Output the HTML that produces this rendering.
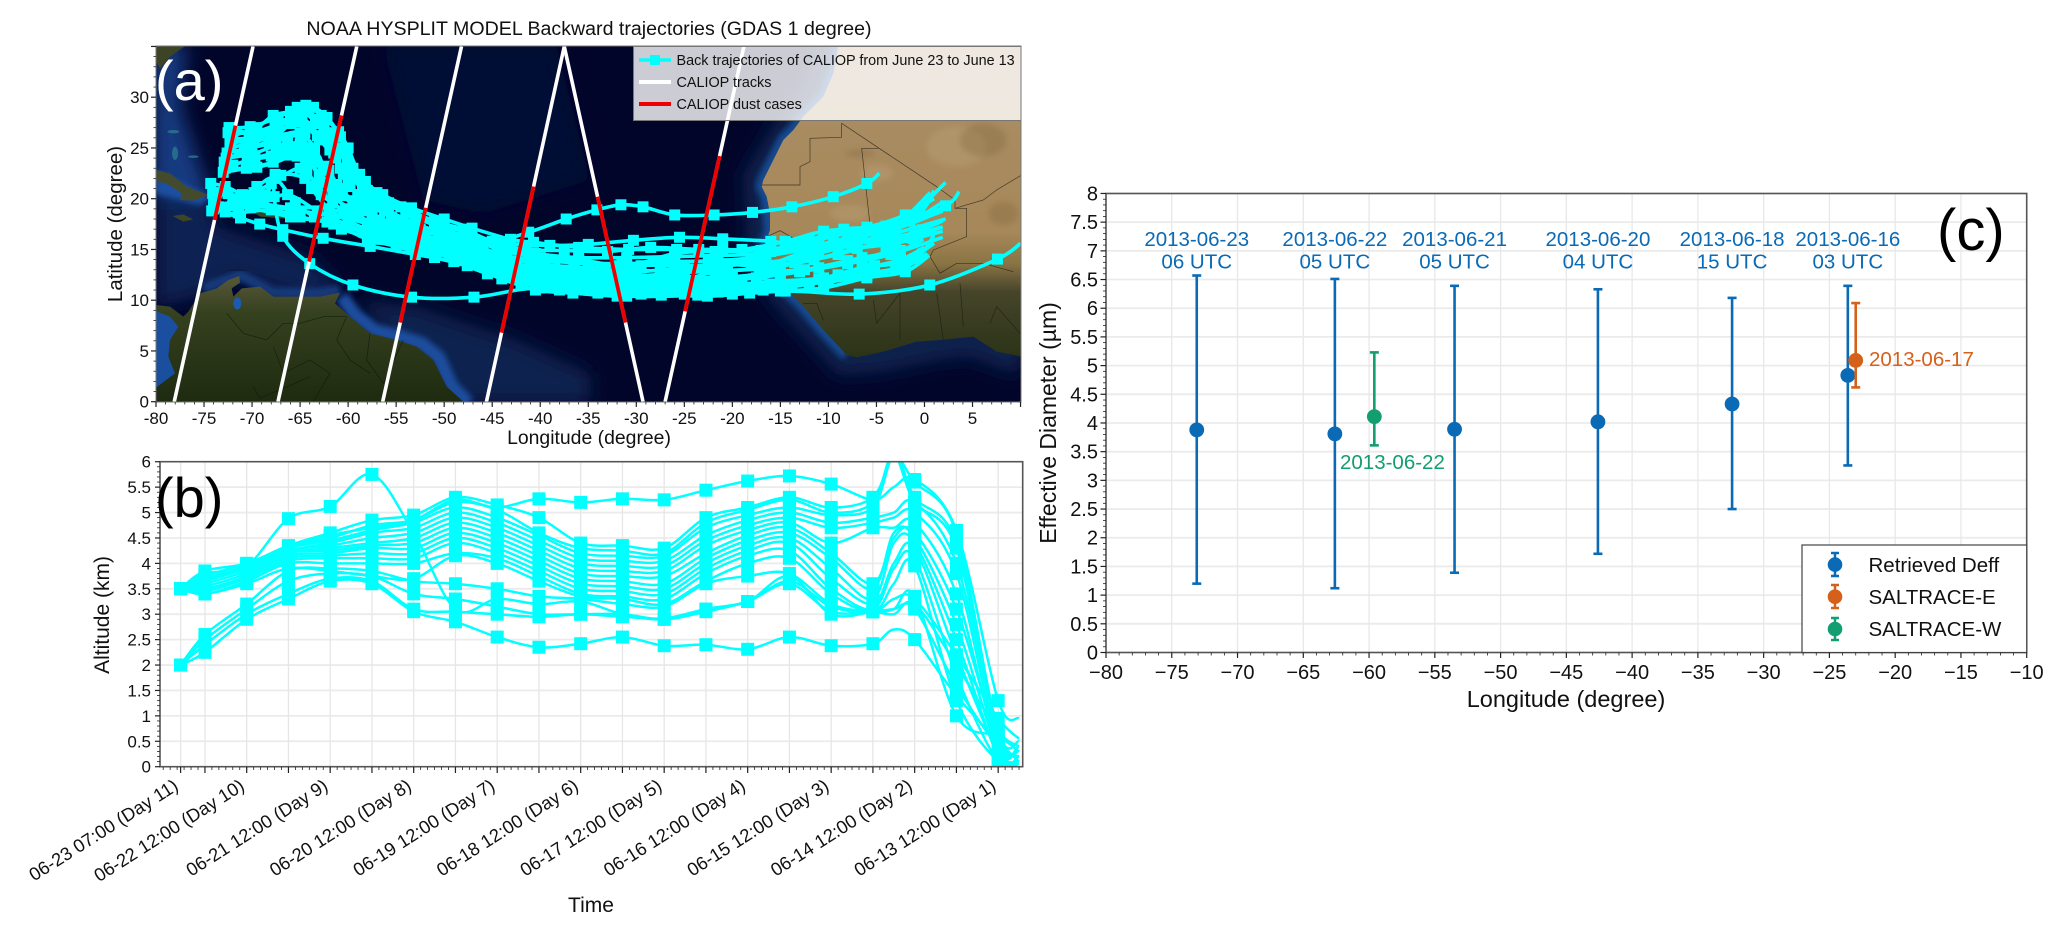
<!DOCTYPE html>
<html lang="en">
<head>
<meta charset="utf-8">
<title>Back trajectories and effective diameter</title>
<style>
html,body{margin:0;padding:0;background:#fff;}
svg{display:block;font-family:"Liberation Sans",Arial,sans-serif;}
</style>
</head>
<body>
<svg id="fig" xmlns="http://www.w3.org/2000/svg" width="2067" height="937" viewBox="0 0 2067 937">
<defs>
  <clipPath id="clipA"><rect x="156" y="46" width="865" height="356"/></clipPath>
  <clipPath id="clipB"><rect x="160" y="462" width="863" height="305"/></clipPath>
  <filter id="blur10" x="-20%" y="-20%" width="140%" height="140%"><feGaussianBlur stdDeviation="9"/></filter>
  <filter id="blur30" x="-30%" y="-30%" width="160%" height="160%"><feGaussianBlur stdDeviation="28"/></filter>
  <linearGradient id="africaFill" x1="0" y1="20" x2="0" y2="950" gradientUnits="userSpaceOnUse">
    <stop offset="0" stop-color="#ab8e66"/>
    <stop offset="0.6" stop-color="#a6885a"/>
    <stop offset="0.7" stop-color="#8a7444"/>
    <stop offset="0.79" stop-color="#46452a"/>
    <stop offset="1" stop-color="#2b3317"/>
  </linearGradient>
  <linearGradient id="samFill" x1="0" y1="710" x2="0" y2="1085" gradientUnits="userSpaceOnUse">
    <stop offset="0" stop-color="#57573a"/>
    <stop offset="0.3" stop-color="#34401e"/>
    <stop offset="1" stop-color="#1f2b10"/>
  </linearGradient>
</defs>

<text x="589" y="35" font-size="19.6" text-anchor="middle" fill="#111">NOAA HYSPLIT MODEL Backward trajectories (GDAS 1 degree)</text>

<g id="panelA">
  <g clip-path="url(#clipA)">
    <rect x="156" y="46" width="865" height="356" fill="#02052a"/>
    <g transform="translate(150,40) scale(.33333)">
      <g filter="url(#blur30)">
        <polygon fill="#0a2352" points="20,400 170,430 200,560 480,650 570,740 570,770 440,770 250,710 140,770 20,800"/>
        <polygon fill="#123a80" points="10,10 110,10 90,200 150,380 185,470 10,470"/>
        <polygon fill="#0a2250" points="620,780 800,800 1100,900 1320,1000 1320,1090 900,1090"/>
        <polygon fill="#040f34" points="700,20 1220,20 1320,420 1000,520 820,480"/>
      </g>
      <polyline fill="none" stroke="#123a7c" stroke-width="32" filter="url(#blur10)" points="160,745 270,705 370,758 510,760 570,750"/>
      <polyline fill="none" stroke="#1a4e9e" stroke-width="42" filter="url(#blur10)" points="575,770 615,825 675,872 755,892 815,912 865,952 905,1040 955,1090"/>
      <polygon fill="#1a4fa0" filter="url(#blur10)" points="15,390 185,470 150,495 15,460"/>
      <polygon fill="url(#samFill)" points="20,795 60,800 100,830 115,815 150,760 200,745 235,720 268,708 270,728 245,745 250,770 275,745 330,740 370,770 440,770 510,770 570,758 555,790 600,830 660,880 740,900 800,920 850,960 890,1040 940,1085 20,1085"/>
      <polygon fill="#1a4fa0" points="15,812 60,830 85,860 60,900 55,950 75,1000 15,1045"/>
      <ellipse fill="#1d5bb0" cx="262" cy="790" rx="12" ry="18"/>
      <polygon fill="#444a2c" points="20,390 60,400 110,440 175,465 130,482 90,480 95,460 50,430 20,425"/>
      <polygon fill="#3c4526" points="68,528 100,523 130,538 100,545"/>
      <polygon fill="#3c4526" points="300,510 350,515 450,530 430,538 330,530"/>
      <polygon fill="#3d4426" points="15,15 110,15 60,50 30,85 15,60"/>
      <g fill="#2c7890" opacity=".8"><ellipse cx="75" cy="340" rx="9" ry="20"/><ellipse cx="70" cy="275" rx="18" ry="5"/><ellipse cx="130" cy="350" rx="16" ry="4"/></g>
      <g fill="none" stroke="#0e1408" stroke-width="2" opacity=".7">
        <polyline points="230,820 280,880 350,900 400,850 450,850 520,830 590,830"/>
        <polyline points="370,920 400,1000 480,960 540,1000 490,1085"/>
        <polyline points="590,830 560,900 600,960 660,1000"/>
        <polyline points="660,880 650,960 700,1030 760,900"/>
        <polyline points="310,1040 330,1075 480,1010"/>
      </g>
    </g>
    <g transform="translate(590,40) scale(.33333)">
      <polyline fill="none" stroke="#08204e" stroke-width="120" filter="url(#blur30)" points="745,15 700,170 610,270 520,420 530,600 518,630 600,760 770,945 880,935 1050,900 1150,890 1300,950"/>
      <polyline fill="none" stroke="#194a90" stroke-width="36" filter="url(#blur10)" points="745,15 730,100 700,170 640,230 610,270 580,300 550,360 520,420 515,440 530,470 540,570 518,630 530,650 560,690 600,760 640,800 700,870 770,945"/>
      <polygon fill="url(#africaFill)" points="745,15 730,100 700,170 640,230 610,270 580,300 550,360 520,420 515,440 530,470 540,520 540,570 530,600 518,630 530,650 560,690 600,760 640,800 700,870 770,945 800,952 880,935 980,905 1050,900 1150,890 1220,935 1295,950 1295,15"/>
      <g fill="#c0a67c" opacity=".35" filter="url(#blur10)">
        <ellipse cx="1100" cy="320" rx="90" ry="60"/><ellipse cx="860" cy="400" rx="50" ry="25"/><ellipse cx="780" cy="520" rx="60" ry="25"/>
      </g>
      <g fill="#7c6238" opacity=".3" filter="url(#blur10)">
        <ellipse cx="1180" cy="300" rx="70" ry="50"/><ellipse cx="1240" cy="520" rx="45" ry="35"/><ellipse cx="810" cy="340" rx="45" ry="12"/>
      </g>
      <g fill="none" stroke="#1c1a10" stroke-width="2" opacity=".75">
        <polyline points="515,435 630,435 630,380 660,365 660,295 755,292 755,250 1040,440 1095,480 1095,505 1130,505 1130,590 1030,630 1020,650 1050,700"/>
        <polyline points="815,325 865,325"/>
        <polyline points="815,325 840,555 860,570"/>
        <polyline points="1095,505 1180,480 1220,450 1295,405"/>
        <polyline points="530,590 570,572 620,600 620,630"/>
        <polyline points="640,790 680,790 700,840"/>
        <polyline points="1050,700 1100,670 1180,670 1270,695"/>
        <polyline points="850,780 860,850 930,760 930,900"/>
        <polyline points="1040,760 1060,900"/>
        <polyline points="1110,730 1120,860"/>
        <polyline points="1200,850 1220,800 1290,880"/>
      </g>
    </g>
  </g>
  <g id="aMarks" clip-path="url(#clipA)"></g>
  <g id="aTracks" clip-path="url(#clipA)"></g>

  <g>
    <rect x="633.5" y="46.5" width="387.5" height="74" fill="#fff" fill-opacity=".8" stroke="#777" stroke-width="1"/>
    <line x1="639" y1="60" x2="671" y2="60" stroke="#00ffff" stroke-width="3.5"/>
    <rect x="650" y="55" width="10" height="10" fill="#00ffff"/>
    <line x1="639" y1="82" x2="671" y2="82" stroke="#fff" stroke-width="4"/>
    <line x1="639" y1="104" x2="671" y2="104" stroke="#ee0000" stroke-width="4"/>
    <text x="676.5" y="65" font-size="14.4" fill="#111">Back trajectories of CALIOP from June 23 to June 13</text>
    <text x="676.5" y="87" font-size="14.4" fill="#111">CALIOP tracks</text>
    <text x="676.5" y="109" font-size="14.4" fill="#111">CALIOP dust cases</text>
  </g>
  <rect x="156" y="46" width="865" height="356" fill="none" stroke="#777" stroke-width="1"/>
  <g id="aAxes"></g>
  <text x="589" y="444" font-size="19.4" text-anchor="middle" fill="#111">Longitude (degree)</text>
  <text transform="translate(122,224) rotate(-90)" font-size="20.5" text-anchor="middle" fill="#111">Latitude (degree)</text>
  <text x="155" y="100" font-size="56" fill="#fff">(a)</text>
</g>

<g id="panelB">
  <g id="bGrid"></g>
  <g id="bMarks" clip-path="url(#clipB)"></g>
  <rect x="160" y="461.7" width="862.7" height="305" fill="none" stroke="#555" stroke-width="1.6"/>
  <g id="bAxes"></g>
  <text x="591" y="912" font-size="21" text-anchor="middle" fill="#111">Time</text>
  <text transform="translate(109,615) rotate(-90)" font-size="21" text-anchor="middle" fill="#111">Altitude (km)</text>
  <text x="155" y="517" font-size="56" fill="#000">(b)</text>
</g>

<g id="panelC">
  <g id="cGrid"></g>
  <g id="cMarks"></g>
  <rect x="1106" y="193.5" width="920.7" height="459" fill="none" stroke="#555" stroke-width="1.6"/>
  <g>
    <rect x="1802" y="545" width="224.7" height="107.5" fill="#fff" stroke="#444" stroke-width="1.2"/>
    <g stroke="#0a6ab5" stroke-width="2.5">
      <line x1="1835" y1="553" x2="1835" y2="576"/><line x1="1831" y1="553" x2="1839" y2="553"/><line x1="1831" y1="576" x2="1839" y2="576"/>
      <circle cx="1835" cy="564.6" r="7.3" fill="#0a6ab5" stroke="none"/>
    </g>
    <g stroke="#d5601a" stroke-width="2.5">
      <line x1="1835" y1="585" x2="1835" y2="608"/><line x1="1831" y1="585" x2="1839" y2="585"/><line x1="1831" y1="608" x2="1839" y2="608"/>
      <circle cx="1835" cy="596.7" r="7.3" fill="#d5601a" stroke="none"/>
    </g>
    <g stroke="#129e70" stroke-width="2.5">
      <line x1="1835" y1="618" x2="1835" y2="640"/><line x1="1831" y1="618" x2="1839" y2="618"/><line x1="1831" y1="640" x2="1839" y2="640"/>
      <circle cx="1835" cy="629" r="7.3" fill="#129e70" stroke="none"/>
    </g>
    <text x="1868.5" y="572" font-size="20.5" fill="#111">Retrieved Deff</text>
    <text x="1868.5" y="604" font-size="20.5" fill="#111">SALTRACE-E</text>
    <text x="1868.5" y="636" font-size="20.5" fill="#111">SALTRACE-W</text>
  </g>
  <g id="cAxes"></g>
  <text x="1566" y="707" font-size="23.5" text-anchor="middle" fill="#111">Longitude (degree)</text>
  <text transform="translate(1056,423) rotate(-90)" font-size="23" text-anchor="middle" fill="#111">Effective Diameter (µm)</text>
  <text x="1937" y="250" font-size="58" fill="#000">(c)</text>
</g>
</svg>

<script>
/* ---------- Panel (a) data: [lon, lat] points, west to east ---------- */
const traj01 = [-72.3,27,-70.2,27.1,-67.3,28,-65.3,29,-63.6,29,-62.2,28,-60.8,26.1,-60.1,24,-58.2,21.7,-56.4,20.4,-53.4,19.1,-50,18,-47.1,17.1,-43.1,16,-40.7,15.7,-36,15.2,-30.8,15,-25.8,15,-21,15,-16.5,14.9,-11,15.5,-6.5,16.5,-3,17,2.2,21.6];
const traj02 = [-72.3,25.5,-70,25.8,-67.5,26.8,-65.5,28.2,-64.2,28.6,-62.5,27.2,-61,25,-60,23.2,-58.5,21,-56.8,19.8,-54,18.6,-50.5,17.4,-47.5,16.6,-44,15.2,-40.5,14.6,-36,14.2,-31,14.2,-26,14.3,-21.5,14.4,-16.5,14.6,-12,15.3,-7,16.2,-3,17.4,0.6,20.6];
const traj03 = [-72.6,24.5,-70.4,25,-68,25.8,-66,27.4,-64.8,28,-63,26.2,-61.5,24.5,-60.5,22.4,-59,20.4,-57,19.2,-54.5,17.8,-51,16.9,-48,15.9,-44.5,14.6,-41,14,-36.5,13.7,-31.5,13.6,-26.5,13.8,-21.5,13.9,-17,14.3,-12.5,15,-7.5,16.1,-3.5,17,2.2,19.3,3.6,20.7];
const traj04 = [-72.8,23,-69.5,23.1,-66,24.3,-64.5,26.5,-63.4,27.8,-62,26.5,-60.8,24.5,-59.8,22.6,-58,20.2,-55.8,18.8,-53,17.6,-49.5,16.3,-46.5,15.4,-43.5,14.2,-39.5,13.5,-35,13.2,-30.5,12.8,-26,13.1,-21,13.4,-16.5,13.7,-12,14.4,-7.5,15.5,-3,16.6,2.2,18];
const traj05 = [-72.5,26.5,-70,26.5,-67.6,27.2,-65.5,27.6,-63.2,26.2,-61.9,24.8,-60.8,23,-59.8,21.2,-57.8,19.4,-55.5,18.2,-52.5,17,-49,15.8,-46,14.8,-42.5,13.6,-38.5,13.1,-34,12.6,-30,12.4,-25.5,12.7,-20.5,12.9,-16,13.2,-11.5,14,-7,15.1,-3,15.6,1.9,16.8];
const traj06 = [-72.2,25,-69.8,25.6,-67.3,26.2,-65,26.5,-63.5,25,-62.5,23.2,-61.2,21.4,-59.5,19.8,-57.5,18.4,-55,17.2,-52,16.3,-48.5,15.2,-45.5,14.2,-42,13,-38,12.4,-33.5,12,-29.5,12.1,-25,12.1,-20,12.3,-15.5,12.8,-11,13.2,-6.5,14.2,-2.5,14.9,-0.1,16];
const traj07 = [-72.7,24,-70,24.4,-67.5,25.2,-65,25.4,-64,23.8,-63,22.1,-61.5,20.2,-59.8,19,-57.6,17.6,-54.8,16.5,-51.8,15.6,-48,14.6,-45,13.6,-41.5,12.3,-37.5,11.8,-33,11.5,-29,11.4,-24.5,11.5,-19.5,11.6,-15,11.9,-10.5,12.2,-6,13.2,-2.5,14,0,15.2];
const traj08 = [-72,23.3,-69.7,24,-67,24.6,-65.3,24.2,-64.3,22.8,-63.2,21.2,-61.6,19.6,-59.5,18.2,-57,17,-54.5,15.9,-51.5,15,-48,13.9,-44.5,13,-41,11.9,-37,11.5,-32.5,11.2,-28.5,11,-24,10.9,-19.5,11,-15,11.4,-10,11.8,-6,12.4,-2,13.3,0.3,14.6];
const traj09 = [-72.4,27,-69.6,26.4,-67.2,27.4,-65,28.6,-63.3,27.4,-62,25.6,-60.4,25,-59.5,23,-58,20.8,-55.8,19.6,-53,18.2,-50,17,-47,16,-44,14.9,-40,14.2,-36,14,-31,13.4,-26,14.6,-21.8,14.8,-17,14.9,-12.5,15.6,-8,16.6,-3.5,16.9,1.9,18.8];
const traj10 = [-72.1,25.9,-70.3,26,-67.6,26.9,-66,27.9,-64.4,27.1,-63,25.8,-61.3,24,-60,21.8,-58.4,19.8,-56.2,18.9,-53.6,17.3,-50.2,16.4,-47,15,-43.6,13.9,-40,12.8,-36,12.5,-31.5,12.2,-26.5,12.4,-21.5,12.2,-17,12.5,-12.5,13,-8,13.9,-4,14.8,-0.5,17.4];
const traj11 = [-74,19.3,-70,19.6,-66,19.1,-62,19,-57,17.5,-52,16,-46,15.5,-41.2,16.7,-37.3,18,-34.1,18.9,-31.6,19.4,-29.3,19.2,-26,18.4,-21.9,18.4,-17.9,18.65,-13.8,19.2,-9.5,20.2,-6,21.5,-4.7,22.5];
const traj12 = [-74.2,18.8,-72,19.3,-70.2,19.1,-66,18.2,-62.2,17.7,-58.4,16.7,-54.3,15.7,-50.5,14.8,-47,13.8,-43,12.4,-39,11.4,-35,11,-30.5,10.9,-26,10.8,-21.5,10.8,-16.8,11,-12,11.6,-7,12.6,-3,13.2,1,15.6];
const traj13 = [-74,19,-71.2,18.1,-69.2,17.5,-66.8,16.95,-62.6,16.1,-57.7,15.3,-53,14.5,-49,13.8,-45.5,12.6,-42,11.7,-38,11,-34,10.7,-29.5,10.6,-25,10.6,-20,10.6,-15,10.9,-10.5,11.2,-6,12.2,-2,12.8,0.5,14.4];
const traj14 = [-73.8,19.5,-72,19.7,-69.5,21.2,-67.6,22,-65.5,19.6,-63.5,18.2,-60.7,17,-57,16,-53,15.2,-49.5,14.5,-46,13.4,-42.5,12.2,-38.5,11.6,-34,11.3,-30,11.1,-25.5,11.3,-21,11.2,-16,11.6,-11,12.1,-6.5,13.2,-2.5,13.7,-0.5,15];
const traj15 = [-73.7,20.6,-71.5,20,-69.8,20.6,-68,21.5,-65,23,-63.8,21,-62,19,-60,17.8,-57.5,16.8,-54,15.6,-50.5,15,-47,14.2,-43.5,13,-40,11.8,-36,11.5,-31.5,11.6,-27,11.7,-22,11.9,-17.5,12.2,-13,12.8,-8,13.6,-3.5,14.5,1.9,16.2];
const traj16 = [-74,20,-72.5,20.5,-71,19.5,-68.7,20.4,-67,22.3,-64.5,22,-62.8,20.4,-60.5,18.8,-58,17.4,-55,16.4,-51.5,15.6,-48,14.8,-44.5,14.1,-41,13.2,-36.5,13.2,-32,13.4,-27.5,13.7,-22.5,13.8,-18,13.4,-13.5,13.7,-9,14.5,-4.5,15.8,-1,16.7,1.9,17.8];
const traj17 = [-73.5,19.2,-70,19.4,-65,18.8,-60,18,-54,16.6,-49,15.9,-44,15.6,-39,15.4,-35,15.5,-30.3,15.9,-25.5,16.2,-21,16.05,-16,15.8,-13,15.4,-8,15.6,-3.5,16,1.9,17.2];
const traj18 = [-67.6,22.4,-67.7,20.2,-66.8,16.3,-64,13.6,-59.5,11.5,-53.4,10.3,-46.9,10.3,-40,11.2,-31,10.4,-23.6,10.5,-14.5,10.9,-6.8,10.6,0.55,11.5,7.6,14.05,10,15.6];
const traj19 = [-72.9,23.6,-70.8,24.8,-68.2,25.4,-66.3,26,-64.9,26.2,-63.7,24.4,-62,22.8,-60.9,21,-59,19.2,-56.7,17.9,-54,16.9,-50.5,15.8,-47.5,14.9,-44,13.6,-40.5,13.1,-36.5,12.9,-32,13,-27.5,12.9,-22.5,13.2,-18,14,-13.5,15.4,-9.5,16.4,-5.5,17,-1.5,17.8,1.8,19.6];
const traj20 = [-72,26.2,-69.5,27,-67.8,28.2,-66,28.6,-64.4,29.2,-62.8,28.2,-61,26.6,-60,25,-58.8,22.4,-57,20.6,-54.5,19.2,-51,17.8,-48,17,-45,15.8,-41.5,15,-37.5,14.9,-33,14.8,-28.5,15.2,-23.5,15,-19,15,-14.5,15.8,-10.5,16.8,-6,17.2,-2,18.4,1,20];
const traj21 = [-72.3,25,-70.5,24,-68,24.2,-66.2,25,-64.6,25,-63.3,23.6,-62.2,21.6,-60.6,20.3,-58.6,18.8,-56,17.5,-53,16.5,-49.8,15.4,-46.8,14.2,-43,13,-39.2,12.2,-35,12.2,-30.8,11.9,-26.2,11.8,-21.8,12.8,-17.2,13.2,-13,14.6,-9,15.6,-5,16.6,-1,16.2,1.6,17.2];
const traj22 = [-73,22.6,-70.6,23,-67.8,23.6,-66.8,24.4,-65.6,25,-64.3,24,-63,22.4,-61.6,20.6,-59.8,18.6,-57.3,17.3,-54.3,16.2,-51,15.2,-47.8,13.9,-44.7,12.8,-41,12.3,-37,11.9,-33,11.9,-28,11.5,-24,11.6,-19,12,-15,13.3,-11,14.7,-7,15.8,-3.5,16.2,-1,15.5];
const traj23 = [-74.1,20.5,-72.8,18.7,-71.4,18.6,-68,18.9,-65,18.2,-61.5,17.5,-58,16,-55,15.3,-51,14.2,-47.6,13.4,-44,12.1,-40.5,11,-36.6,10.7,-32,10.4,-27.4,10.5,-22.6,10.4,-18.2,10.7,-13.8,11.3,-9,12.5,-5.2,13.4,-1,14.1,1,16.4];
const traj24 = [-74.3,21.5,-72.8,21.2,-71,20.4,-69,19.6,-66.3,20.4,-63.2,18.8,-60,17.4,-56.4,16,-52.4,15,-48.6,14.2,-45,13.2,-41.5,12.6,-37.8,12.6,-33.5,12.6,-29.5,13.4,-25,13.4,-20.5,13.6,-16,14.8,-12,15.9,-8.4,17,-4,17.3,-0.5,18.6,1,20.8];
const trajectories = [traj01,traj02,traj03,traj04,traj05,traj06,traj07,traj08,traj09,traj10,traj11,traj12,traj13,traj14,traj15,traj16,traj17,traj18,traj19,traj20,traj21,traj22,traj23,traj24];

const trackBottomLon = [-78.1,-67.3,-56.4,-45.6,-29.3,-27];
const trackTopLon    = [-69.9,-59.1,-48.2,-37.5,-37.5,-18.8];
const dustLatLow     = [17.9,13.8,7.8,6.8,7.8,8.9];
const dustLatHigh    = [27.2,28.2,19.1,21.2,20.2,24.2];

const aLonTicks = [-80,-75,-70,-65,-60,-55,-50,-45,-40,-35,-30,-25,-20,-15,-10,-5,0,5];
const aLatTicks = [0,5,10,15,20,25,30];

/* ---------- Panel (b) data: altitude in km at each sample hour ---------- */
const sampleHours = [0,7,19,31,43,55,67,79,91,103,115,127,139,151,163,175,187,199,205,211,223,235,241];
const markerHours = [0,7,19,31,43,55,67,79,91,103,115,127,139,151,163,175,187,199,211,223,235];
const bTickLabelHours = [0,19,43,67,91,115,139,163,187,211,235];
const bTickLabels = ["06-23 07:00 (Day 11)","06-22 12:00 (Day 10)","06-21 12:00 (Day 9)","06-20 12:00 (Day 8)","06-19 12:00 (Day 7)","06-18 12:00 (Day 6)","06-17 12:00 (Day 5)","06-16 12:00 (Day 4)","06-15 12:00 (Day 3)","06-14 12:00 (Day 2)","06-13 12:00 (Day 1)"];
const altTicks = [0,0.5,1,1.5,2,2.5,3,3.5,4,4.5,5,5.5,6];

const alt01 = [3.5,3.8,3.95,4.88,5.12,5.75,4.6,3.1,3.3,3.2,3.25,3.0,2.9,3.1,3.25,3.65,3.15,3.05,3.3,3.3,2.2,0.95,0.55];
const alt02 = [3.5,3.7,3.9,4.3,4.55,4.7,4.85,5.25,5.1,5.27,5.2,5.27,5.25,5.44,5.62,5.72,5.56,5.25,5.5,5.65,4.65,1.3,0.95];
const alt03 = [3.5,3.85,4.0,4.35,4.6,4.85,4.95,5.3,5.15,4.9,4.4,4.35,4.3,4.9,5.1,5.3,5.1,5.3,6.1,5.6,4.6,0.6,0.3];
const alt04 = [3.5,3.75,4.0,4.3,4.5,4.75,4.85,5.2,5.05,4.6,4.3,4.25,4.2,4.8,5.05,5.25,5.0,5.2,6.2,5.3,4.4,0.7,0.5];
const alt05 = [3.5,3.7,3.95,4.3,4.45,4.65,4.8,5.1,4.9,4.55,4.2,4.15,4.15,4.7,4.95,5.1,4.95,5.1,6.1,5.2,4.3,0.5,0.4];
const alt06 = [3.5,3.7,3.95,4.25,4.4,4.6,4.7,5.0,4.8,4.45,4.1,4.05,4.05,4.55,4.85,5.0,4.8,4.9,5.0,5.2,4.0,0.6,0.3];
const alt07 = [3.5,3.65,3.9,4.25,4.35,4.5,4.6,4.9,4.7,4.35,4.0,3.95,3.95,4.45,4.75,4.9,4.7,4.8,4.9,5.0,3.8,0.4,0.4];
const alt08 = [3.5,3.6,3.85,4.2,4.3,4.4,4.5,4.8,4.6,4.25,3.9,3.85,3.85,4.35,4.65,4.8,4.4,4.7,4.7,4.8,3.4,0.3,0.2];
const alt09 = [3.5,3.55,3.8,4.2,4.25,4.35,4.4,4.7,4.5,4.15,3.8,3.75,3.75,4.2,4.55,4.7,4.2,3.6,4.5,4.6,3.1,0.5,0.3];
const alt10 = [3.5,3.5,3.75,4.15,4.2,4.3,4.3,4.6,4.4,4.05,3.7,3.65,3.6,4.1,4.45,4.6,4.1,3.5,4.6,4.5,2.8,0.3,0.1];
const alt11 = [3.5,3.5,3.7,4.1,4.15,4.2,4.2,4.5,4.3,3.95,3.6,3.55,3.5,4.0,4.35,4.5,3.9,3.3,4.4,4.4,2.5,0.2,0.1];
const alt12 = [3.5,3.45,3.7,4.05,4.1,4.1,4.1,4.4,4.2,3.85,3.5,3.45,3.4,3.9,4.25,4.4,3.7,3.2,4.0,4.3,2.2,0.3,0.1];
const alt13 = [3.5,3.4,3.65,4.0,4.0,4.0,4.0,4.2,4.1,3.75,3.4,3.35,3.3,3.8,4.15,4.25,3.5,3.1,3.9,4.1,1.8,0.1,0.2];
const alt14 = [3.5,3.4,3.6,3.9,3.85,3.75,3.7,4.15,4.0,3.65,3.35,3.3,3.2,3.65,4.0,4.1,3.4,3.05,3.6,3.95,1.3,0.1,0.05];
const alt15 = [2.0,2.6,3.2,3.85,3.9,3.85,3.65,3.6,3.5,3.35,3.3,3.2,3.15,3.6,3.75,3.8,3.2,3.05,3.1,3.35,1.0,0.6,0.3];
const alt16 = [2.0,2.5,3.1,3.65,3.8,3.75,3.4,3.3,3.15,3.0,3.0,3.0,2.9,3.05,3.25,3.6,3.05,3.05,3.0,3.2,2.0,0.7,0.4];
const alt17 = [2.0,2.4,3.0,3.4,3.7,3.65,3.1,3.05,3.0,2.95,3.0,2.95,2.92,3.1,3.25,3.75,3.0,3.05,3.1,3.1,1.6,0.4,0.2];
const alt18 = [2.0,2.25,2.9,3.3,3.65,3.6,3.05,2.85,2.55,2.35,2.42,2.55,2.38,2.4,2.31,2.55,2.38,2.42,2.7,2.5,1.4,0.5,0.1];
const altitudeSeries = [alt01,alt02,alt03,alt04,alt05,alt06,alt07,alt08,alt09,alt10,alt11,alt12,alt13,alt14,alt15,alt16,alt17,alt18];

/* ---------- Panel (c) data ---------- */
const retrievedLon  = [-73.1,-62.6,-53.5,-42.6,-32.4,-23.6];
const retrievedDeff = [3.88,3.81,3.89,4.02,4.33,4.83];
const retrievedLow  = [1.2,1.12,1.39,1.72,2.5,3.26];
const retrievedHigh = [6.57,6.51,6.39,6.33,6.18,6.39];
const retrievedDate = ["2013-06-23","2013-06-22","2013-06-21","2013-06-20","2013-06-18","2013-06-16"];
const retrievedTime = ["06 UTC","05 UTC","05 UTC","04 UTC","15 UTC","03 UTC"];
const saltraceELon = [-23.0];
const saltraceEDeff = [5.09];
const saltraceELow = [4.62];
const saltraceEHigh = [6.09];
const saltraceWLon = [-59.6];
const saltraceWDeff = [4.11];
const saltraceWLow = [3.61];
const saltraceWHigh = [5.23];
const cLonTicks = [-80,-75,-70,-65,-60,-55,-50,-45,-40,-35,-30,-25,-20,-15,-10];
const cDeffTicks = [0,0.5,1,1.5,2,2.5,3,3.5,4,4.5,5,5.5,6,6.5,7,7.5,8];

/* ---------- Axis functions ---------- */
const xA = lon => 156 + (lon + 80) * 9.606;
const yA = lat => 401.7 - lat * 10.15;
const xB = h => 180.6 + h * 3.479;
const yB = v => 766.7 - v * 50.83;
const xC = lon => 1106 + (lon + 80) * 13.153;
const yC = v => 652.5 - v * 57.38;

const NS = "http://www.w3.org/2000/svg";
function make(parent, tag, attrs, text) {
  const e = document.createElementNS(NS, tag);
  for (const k in attrs) e.setAttribute(k, attrs[k]);
  if (text !== undefined) e.textContent = text;
  parent.appendChild(e);
  return e;
}
function smoothPath(pts) {
  let d = "M" + pts[0][0].toFixed(1) + "," + pts[0][1].toFixed(1);
  for (let i = 0; i < pts.length - 1; i++) {
    const p0 = pts[Math.max(i - 1, 0)], p1 = pts[i], p2 = pts[i + 1], p3 = pts[Math.min(i + 2, pts.length - 1)];
    const c1x = p1[0] + (p2[0] - p0[0]) / 6, c1y = p1[1] + (p2[1] - p0[1]) / 6;
    const c2x = p2[0] - (p3[0] - p1[0]) / 6, c2y = p2[1] - (p3[1] - p1[1]) / 6;
    d += "C" + c1x.toFixed(1) + "," + c1y.toFixed(1) + " " + c2x.toFixed(1) + "," + c2y.toFixed(1) + " " + p2[0].toFixed(1) + "," + p2[1].toFixed(1);
  }
  return d;
}
const TICK = "#222";

/* ---------- Panel (a) ---------- */
const aMarks = document.getElementById("aMarks");
trajectories.forEach((t) => {
  const pts = [];
  for (let i = 0; i < t.length; i += 2) pts.push([xA(t[i]), yA(t[i + 1])]);
  const line = make(aMarks, "path", {d: smoothPath(pts), fill: "none", stroke: "#00ffff", "stroke-width": 3.6});
  
  
  pts.forEach((p, i) => {
    if (i === pts.length - 1) return;
    const m = make(aMarks, "rect", {x: p[0] - 5.5, y: p[1] - 5.5, width: 11, height: 11, fill: "#00ffff"});
    
    
  });
});
const aTracks = document.getElementById("aTracks");
trackBottomLon.forEach((b, i) => {
  const lonAt = lat => b + (trackTopLon[i] - b) * lat / 35;
  const w = make(aTracks, "line", {x1: xA(b), y1: yA(0), x2: xA(trackTopLon[i]), y2: yA(35), stroke: "#fff", "stroke-width": 3.6});
  
  
  const r = make(aTracks, "line", {x1: xA(lonAt(dustLatLow[i])), y1: yA(dustLatLow[i]), x2: xA(lonAt(dustLatHigh[i])), y2: yA(dustLatHigh[i]), stroke: "#ee0000", "stroke-width": 3.8});
  
  
});
const aAxes = document.getElementById("aAxes");
for (let lon = -80; lon <= 10; lon++) {
  const major = lon % 5 === 0;
  make(aAxes, "line", {x1: xA(lon), x2: xA(lon), y1: 402, y2: major ? 407 : 404.5, stroke: TICK, "stroke-width": major ? 1.2 : 0.8});
}
for (let lat = 0; lat <= 35; lat++) {
  const major = lat % 5 === 0;
  make(aAxes, "line", {x1: 156, x2: major ? 151 : 153.5, y1: yA(lat), y2: yA(lat), stroke: TICK, "stroke-width": major ? 1.2 : 0.8});
}
aLonTicks.forEach(v => {
  const t = make(aAxes, "text", {x: xA(v), y: 424, "font-size": 17, "text-anchor": "middle", fill: "#111"}, String(v));
  
  
});
aLatTicks.forEach(v => {
  const t = make(aAxes, "text", {x: 149, y: yA(v) + 6, "font-size": 17, "text-anchor": "end", fill: "#111"}, String(v));
  
  
});

/* ---------- Panel (b) ---------- */
const bGrid = document.getElementById("bGrid");
for (let v = 0.5; v < 6; v += 0.5) {
  make(bGrid, "line", {x1: 160, x2: 1022.7, y1: yB(v), y2: yB(v), stroke: "#ebebeb", "stroke-width": 1.8});
}
markerHours.forEach(h => {
  make(bGrid, "line", {x1: xB(h), x2: xB(h), y1: 462, y2: 766.7, stroke: "#e6e6e6", "stroke-width": 1.3});
});
const bMarks = document.getElementById("bMarks");
altitudeSeries.forEach((s) => {
  const pts = s.map((v, i) => [xB(sampleHours[i]), yB(v)]);
  const line = make(bMarks, "path", {d: smoothPath(pts), fill: "none", stroke: "#00ffff", "stroke-width": 2.5});
  
  
  s.forEach((v, i) => {
    if (markerHours.indexOf(sampleHours[i]) < 0) return;
    const m = make(bMarks, "rect", {x: xB(sampleHours[i]) - 6.5, y: yB(v) - 6.5, width: 13, height: 13, fill: "#00ffff"});
    
    
  });
});
const bAxes = document.getElementById("bAxes");
for (let h = -5; h <= 241; h += 2) {
  make(bAxes, "line", {x1: xB(h), x2: xB(h), y1: 767, y2: 770, stroke: TICK, "stroke-width": 0.8});
}
markerHours.forEach(h => {
  make(bAxes, "line", {x1: xB(h), x2: xB(h), y1: 767, y2: 773, stroke: TICK, "stroke-width": 1.2});
});
for (let i = 0; i <= 60; i++) {
  const v = i / 10;
  const major = i % 5 === 0;
  make(bAxes, "line", {x1: 160, x2: major ? 155 : 157, y1: yB(v), y2: yB(v), stroke: TICK, "stroke-width": major ? 1.2 : 0.8});
}
altTicks.forEach(v => {
  const t = make(bAxes, "text", {x: 151, y: yB(v) + 6, "font-size": 17, "text-anchor": "end", fill: "#111"}, String(v));
  
  
});
bTickLabelHours.forEach((h, i) => {
  const px = xB(h) - 1;
  const t = make(bAxes, "text", {transform: "translate(" + px + ",789) rotate(-32.5)", "font-size": 18.4, "text-anchor": "end", fill: "#111"}, bTickLabels[i]);
  
  
});

/* ---------- Panel (c) ---------- */
const cGrid = document.getElementById("cGrid");
cDeffTicks.forEach(v => {
  make(cGrid, "line", {x1: 1106, x2: 2026.7, y1: yC(v), y2: yC(v), stroke: "#ebebeb", "stroke-width": 1.8});
});
cLonTicks.forEach(v => {
  make(cGrid, "line", {x1: xC(v), x2: xC(v), y1: 193.5, y2: 652.5, stroke: "#e8e8e8", "stroke-width": 1.3});
});
const cMarks = document.getElementById("cMarks");
function errorPoint(lon, d, lo, hi, color) {
  const x = xC(lon);
  const stem = make(cMarks, "line", {x1: x, x2: x, y1: yC(lo), y2: yC(hi), stroke: color, "stroke-width": 2.6});
  
  
  [lo, hi].forEach(v => {
    const cap = make(cMarks, "line", {x1: x - 4.5, x2: x + 4.5, y1: yC(v), y2: yC(v), stroke: color, "stroke-width": 2.6});
    
    
  });
  const dot = make(cMarks, "circle", {cx: x, cy: yC(d), r: 7.4, fill: color});
  
  
}
retrievedLon.forEach((lon, i) => {
  errorPoint(lon, retrievedDeff[i], retrievedLow[i], retrievedHigh[i], "#0a6ab5");
  const a = make(cMarks, "text", {x: xC(lon), y: 246, "font-size": 20.5, "text-anchor": "middle", fill: "#0a6ab5"}, retrievedDate[i]);
  
  
  const b = make(cMarks, "text", {x: xC(lon), y: 268.5, "font-size": 20.5, "text-anchor": "middle", fill: "#0a6ab5"}, retrievedTime[i]);
  
  
});
saltraceWLon.forEach((lon, i) => {
  errorPoint(lon, saltraceWDeff[i], saltraceWLow[i], saltraceWHigh[i], "#129e70");
});
saltraceELon.forEach((lon, i) => {
  errorPoint(lon, saltraceEDeff[i], saltraceELow[i], saltraceEHigh[i], "#d5601a");
});
const labelE = make(cMarks, "text", {x: 1869, y: 366, "font-size": 20.5, fill: "#d5601a"}, "2013-06-17");


const labelW = make(cMarks, "text", {x: 1340, y: 469, "font-size": 20.5, fill: "#129e70"}, "2013-06-22");



const cAxes = document.getElementById("cAxes");
for (let lon = -80; lon <= -10; lon++) {
  const major = lon % 5 === 0;
  make(cAxes, "line", {x1: xC(lon), x2: xC(lon), y1: 652.5, y2: major ? 658 : 655.5, stroke: TICK, "stroke-width": major ? 1.2 : 0.8});
}
for (let i = 0; i <= 80; i++) {
  const v = i / 10;
  const major = i % 5 === 0;
  make(cAxes, "line", {x1: 1106, x2: major ? 1100.5 : 1103, y1: yC(v), y2: yC(v), stroke: TICK, "stroke-width": major ? 1.2 : 0.8});
}
cLonTicks.forEach(v => {
  const t = make(cAxes, "text", {x: xC(v), y: 679, "font-size": 20, "text-anchor": "middle", fill: "#111"}, "\u2212" + Math.abs(v));
  
  
});
cDeffTicks.forEach(v => {
  const t = make(cAxes, "text", {x: 1098, y: yC(v) + 7, "font-size": 20, "text-anchor": "end", fill: "#111"}, String(v));
  
  
});
</script>
</body>
</html>
